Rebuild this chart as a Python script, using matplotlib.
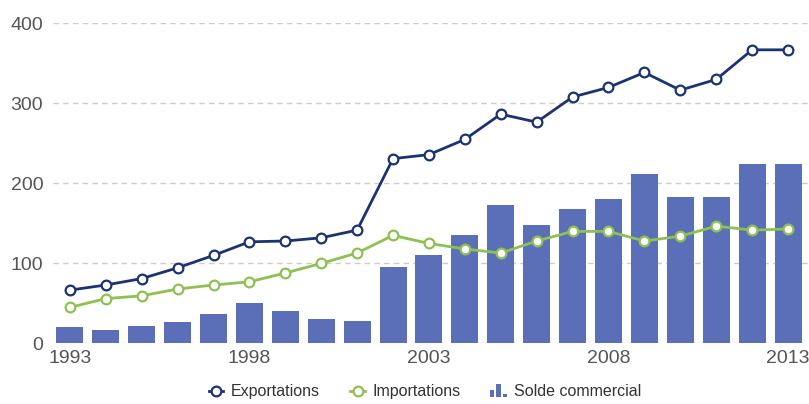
import matplotlib
matplotlib.use("Agg")
import matplotlib.pyplot as plt
from matplotlib.legend_handler import HandlerBase
from matplotlib.patches import Rectangle

plt.rcParams['font.family'] = ['Liberation Sans', 'DejaVu Sans']

years = list(range(1993, 2014))
exportations = [66.6, 73, 81, 94.5, 110, 127, 128, 132, 141.6, 231,
                236, 255, 286.6, 276.6, 308, 320, 338.7, 316.6, 330, 367, 367]
importations = [45, 56, 59.5, 68, 73, 77, 88, 100, 113, 135,
                125, 118, 113, 128, 140, 140, 128, 134, 146.6, 141.6, 143]
solde = [20, 16.6, 21.6, 26.6, 36.6, 50, 40, 30, 28, 96,
         111, 136, 173, 148, 168, 180, 211.6, 183, 183, 223.7, 223.7]
xtick_years = [1993, 1998, 2003, 2008, 2013]
yticks = [0, 100, 200, 300, 400]

col_exp = '#1c3372'
col_imp = '#8fc052'
col_bar = '#5b6fb8'


class BarIconHandler(HandlerBase):
    # small "bar chart" glyph for the legend
    def create_artists(self, legend, orig_handle, xdescent, ydescent,
                       width, height, fontsize, trans):
        bw = height * 0.38
        gap = height * 0.22
        heights = [0.65, 1.25, 0.35]
        x0 = width / 2 - (3 * bw + 2 * gap) / 2 - xdescent
        arts = []
        for i, h in enumerate(heights):
            r = Rectangle((x0 + i * (bw + gap), -ydescent - height * 0.1), bw,
                          height * h, facecolor=col_bar, edgecolor='none',
                          transform=trans)
            arts.append(r)
        return arts


fig = plt.figure(figsize=(8.09, 4.04), dpi=100)
ax = fig.add_axes([0.0655, 0.150, 0.933, 0.792])

bars = ax.bar(years, solde, width=0.75, color=col_bar, zorder=2,
              label='Solde commercial')
l_imp, = ax.plot(years, importations, color=col_imp, lw=2.0, marker='o',
                 markersize=7, markerfacecolor='white', markeredgewidth=1.6,
                 markeredgecolor=col_imp, zorder=3, label='Importations')
l_exp, = ax.plot(years, exportations, color=col_exp, lw=2.0, marker='o',
                 markersize=7, markerfacecolor='white', markeredgewidth=1.6,
                 markeredgecolor=col_exp, zorder=4, label='Exportations')

ax.set_xlim(1992.53, 2013.55)
ax.set_ylim(0, 400)
ax.set_yticks(yticks)
ax.set_xticks(xtick_years)
ax.yaxis.grid(True, linestyle=(0, (4, 3)), color='#cccccc', lw=1, zorder=0)
ax.set_axisbelow(True)
for s in ax.spines.values():
    s.set_visible(False)
ax.tick_params(length=0, labelsize=14, colors='#555555')
ax.tick_params(axis='y', pad=7)
ax.tick_params(axis='x', pad=5)

leg = fig.legend([l_exp, l_imp, bars[0]],
                 ['Exportations', 'Importations', 'Solde commercial'],
                 handler_map={bars[0]: BarIconHandler()},
                 loc='center', bbox_to_anchor=(0.525, 0.03), ncol=3,
                 frameon=False, fontsize=11.5, handlelength=0.9,
                 columnspacing=1.9, handletextpad=0.5)
for t in leg.get_texts():
    t.set_color('#333333')

fig.savefig('out.png', dpi=100)
